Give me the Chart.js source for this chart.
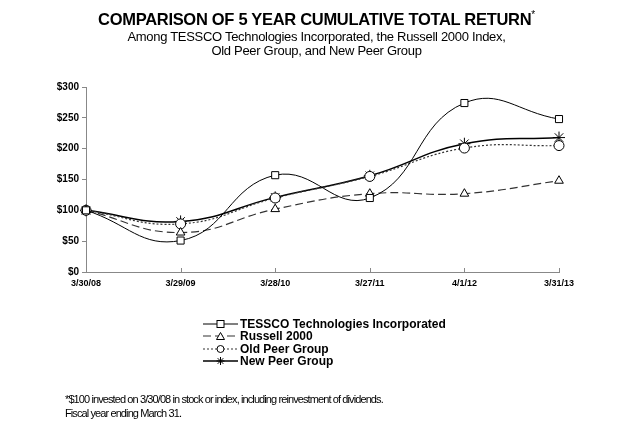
<!DOCTYPE html>
<html>
<head>
<meta charset="utf-8">
<script src="https://cdn.jsdelivr.net/npm/chart.js@4"></script>
<style>
  body { margin: 0; background: #fff; font-family: "Liberation Sans", Arial, sans-serif; }
  #wrap { position: relative; width: 633px; height: 429px; overflow: hidden; }
  #chart { position: absolute; left: 0; top: 0; }
  .title { position: absolute; left: 0; width: 633px; text-align: center; color: #000; }
  #t1 { top: 9px; font-size: 16.5px; font-weight: bold; letter-spacing: -0.3px; }
  #t1 sup { font-size: 10px; font-weight: normal; }
  #t2 { top: 30px; font-size: 13px; letter-spacing: -0.3px; line-height: 14px; }
  #legend { position: absolute; left: 203px; top: 318px; font-size: 12px; font-weight: bold; }
  .row { height: 12.3px; display: flex; align-items: center; white-space: nowrap; }
  .row svg { width: 36px; height: 12px; margin-right: 1px; }
  #foot { position: absolute; left: 65px; top: 392px; font-size: 11px; letter-spacing: -0.9px; line-height: 14px; }
</style>
</head>
<body>
<div id="wrap">
  <canvas id="chart" width="633" height="429"></canvas>
  <div class="title" id="t1">COMPARISON OF 5 YEAR CUMULATIVE TOTAL RETURN<sup>*</sup></div>
  <div class="title" id="t2">Among TESSCO Technologies Incorporated, the Russell 2000 Index,<br>Old Peer Group, and New Peer Group</div>
  <div id="legend"></div>
  <div id="foot">*$100 invested on 3/30/08 in stock or index, including reinvestment of dividends.<br>Fiscal year ending March 31.</div>
</div>
<script>
const dates = ["3/30/08", "3/29/09", "3/28/10", "3/27/11", "4/1/12", "3/31/13"];
const tessco = [100, 51, 157, 120, 274, 248];
const russell = [100, 64, 102, 127, 127, 148];
const oldPeer = [100, 78, 120, 155, 201, 205];
const newPeer = [100, 82, 121, 156, 208, 218];
const yTicks = [0, 50, 100, 150, 200, 250, 300];

const seriesList = [
    { label: "TESSCO Technologies Incorporated", data: tessco, style: "rect", dash: [], width: 1, color: "#000" },
    { label: "Russell 2000", data: russell, style: "triangle", dash: [8, 4], width: 1.2, color: "#333" },
    { label: "Old Peer Group", data: oldPeer, style: "circle", dash: [2, 2], width: 1.2, color: "#333" },
    { label: "New Peer Group", data: newPeer, style: "star", dash: [], width: 1.5, color: "#000" }
];

const datasets = seriesList.map(s => ({
    label: s.label,
    data: s.data,
    borderColor: s.color,
    borderWidth: s.width,
    borderDash: s.dash,
    tension: 0.45,
    fill: false,
    clip: false,
    pointStyle: s.style,
    pointRadius: s.style === "star" ? 6 : 5,
    pointBorderColor: "#000",
    pointBorderWidth: 1,
    pointBackgroundColor: "#fff"
}));

// x axis ticks point up into the plot, like the original
const innerTicks = {
    id: "innerTicks",
    afterDraw(chart) {
        const ctx = chart.ctx;
        const x = chart.scales.x;
        const bottom = chart.chartArea.bottom;
        ctx.save();
        ctx.strokeStyle = "#888";
        ctx.lineWidth = 1;
        ctx.beginPath();
        x.ticks.forEach((t, i) => {
            const px = Math.round(x.getPixelForTick(i)) + 0.5;
            ctx.moveTo(px, bottom);
            ctx.lineTo(px, bottom - 4);
        });
        ctx.stroke();
        ctx.restore();
    }
};

new Chart(document.getElementById("chart"), {
    type: "line",
    data: { labels: dates, datasets: datasets },
    options: {
        responsive: false,
        animation: false,
        layout: { padding: { left: 0, right: 74, top: 87, bottom: 137 } },
        plugins: { legend: { display: false }, tooltip: { enabled: false } },
        scales: {
            x: {
                offset: false,
                afterFit: s => { s.height = 20; },
                border: { color: "#888", width: 1 },
                grid: { display: true, drawOnChartArea: false, drawTicks: false, color: "#888" },
                ticks: { color: "#000", font: { family: "Liberation Sans", size: 9, weight: "bold" }, padding: 6, maxRotation: 0 }
            },
            y: {
                min: 0, max: 300,
                afterFit: s => { s.width = 86; },
                afterBuildTicks: s => { s.ticks = yTicks.map(v => ({ value: v })); },
                border: { color: "#888", width: 1 },
                grid: { drawOnChartArea: false, tickLength: 4, color: "#888" },
                ticks: {
                    color: "#000", padding: 3,
                    font: { family: "Liberation Sans", size: 10, weight: "bold" },
                    callback: v => "$" + v
                }
            }
        }
    },
    plugins: [innerTicks]
});

// legend
const legend = document.getElementById("legend");
const markerSvg = {
    rect: '<rect x="14" y="2.5" width="7" height="7" fill="#fff" stroke="#000"/>',
    triangle: '<path d="M17.5 2.5 L21.5 9.5 L13.5 9.5 Z" fill="#fff" stroke="#000"/>',
    circle: '<circle cx="17.5" cy="6" r="3.5" fill="#fff" stroke="#000"/>',
    star: '<path d="M13.5 6 H21.5 M17.5 2 V10 M14.7 3.2 L20.3 8.8 M20.3 3.2 L14.7 8.8" stroke="#000"/>'
};
seriesList.forEach(s => {
    const row = document.createElement("div");
    row.className = "row";
    row.innerHTML = '<svg viewBox="0 0 36 12"><line x1="0" y1="6" x2="35" y2="6" stroke="' + s.color +
        '" stroke-width="' + s.width + '" stroke-dasharray="' + (s.dash.join(",") || "none") + '"/>' +
        markerSvg[s.style] + '</svg><span>' + s.label + '</span>';
    legend.appendChild(row);
});
</script>
</body>
</html>
